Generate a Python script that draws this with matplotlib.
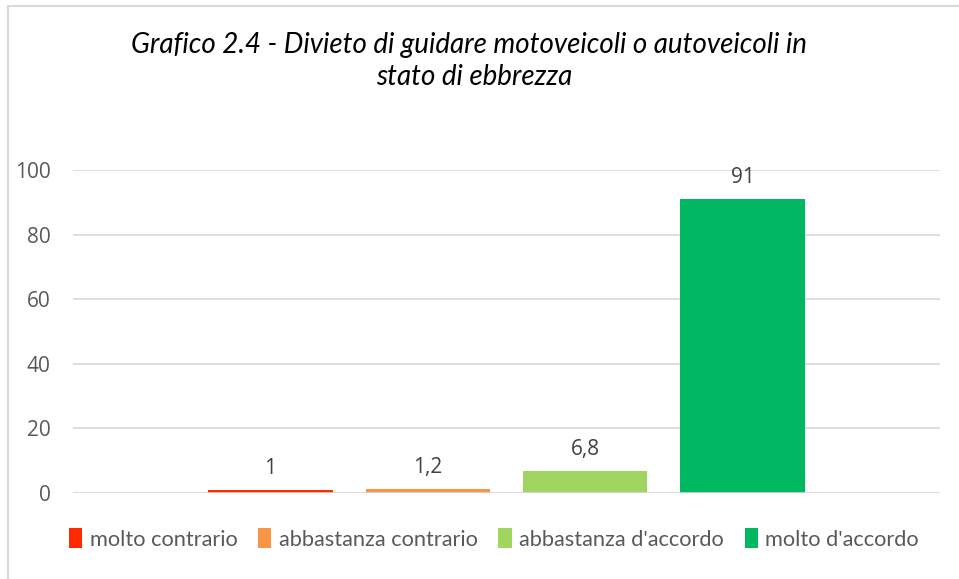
import matplotlib.pyplot as plt
from matplotlib.lines import Line2D
from matplotlib.patches import Patch

# Dati del grafico
categorie = ['molto contrario', 'abbastanza contrario', "abbastanza d'accordo", "molto d'accordo"]
valori = [1, 1.2, 6.8, 91]
etichette = ['1', '1,2', '6,8', '91']
colori = ['#FF2A00', '#F79646', '#A0D65F', '#00B862']
yticks = [0, 20, 40, 60, 80, 100]

plt.rcParams['font.family'] = ['Open Sans', 'DejaVu Sans']

W, H = 959, 579
fig = plt.figure(figsize=(W / 100, H / 100), dpi=100)

# Area del grafico (pixel -> frazione)
left, right, top, bottom = 73, 940, 170, 493
ax = fig.add_axes([left / W, 1 - bottom / H, (right - left) / W, (bottom - top) / H])

pos = list(range(len(valori)))
ax.bar(pos, valori, width=0.79, color=colori, zorder=3)
ax.set_xlim(-1.256, 4.256)
ax.set_ylim(0, 100)

for x, v, t in zip(pos, valori, etichette):
    ax.annotate(t, (x, v), xytext=(0, 8), textcoords='offset points',
                ha='center', va='bottom', fontsize=15, color='#404040')

ax.set_yticks(yticks)
ax.set_yticklabels([str(t) for t in yticks], fontsize=15, color='#595959')
ax.tick_params(axis='y', length=0, pad=16)
ax.set_xticks([])
ax.grid(axis='y', color='#D9D9D9', linewidth=1.2, zorder=0)
for s in ax.spines.values():
    s.set_visible(False)
ax.axhline(0, color='#D9D9D9', linewidth=1.2, zorder=4)
ax.set_facecolor('none')

# Titolo
titolo_font = dict(ha='center', va='center', fontsize=20, style='italic', color='#000000',
                   family=['Lato', 'DejaVu Sans'])
fig.text(469 / W, 1 - 45 / H, 'Grafico 2.4 - Divieto di guidare motoveicoli o autoveicoli in', **titolo_font)
fig.text(474 / W, 1 - 77 / H, 'stato di ebbrezza', **titolo_font)

# Legenda
handles = [Patch(facecolor=c, edgecolor='none') for c in colori]
fig.legend(handles, categorie, loc='center', bbox_to_anchor=(494 / W, 1 - 539 / H),
           ncol=4, frameon=False, handlelength=0.6, handleheight=1.0,
           handletextpad=0.35, columnspacing=0.95, labelcolor='#595959',
           prop={'family': ['Lato', 'DejaVu Sans'], 'size': 15.7})

# Bordo del riquadro (solo alto e sinistra visibili)
fig.add_artist(Line2D([8 / W, 8 / W], [0, 1 - 5.5 / H], color='#D9D9D9', linewidth=1.5))
fig.add_artist(Line2D([8 / W, 1], [1 - 5.5 / H, 1 - 5.5 / H], color='#D9D9D9', linewidth=1.5))

fig.savefig('out.png', dpi=100)
